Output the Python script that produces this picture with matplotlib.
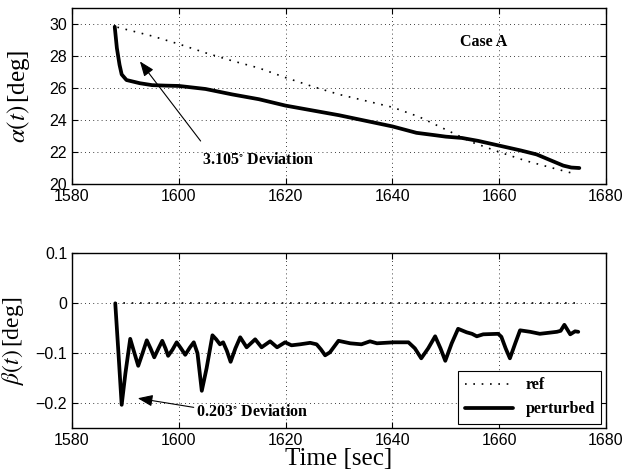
import matplotlib

matplotlib.use("Agg")
import matplotlib.pyplot as plt

plt.rcParams["font.family"] = ["Liberation Sans", "DejaVu Sans"]
plt.rcParams["mathtext.fontset"] = "stix"

SERIF = ["Liberation Serif", "DejaVu Serif"]

# alpha(t): perturbed and reference trajectories [deg]
alpha_t = [1588.0, 1588.4, 1588.9, 1589.3, 1590.2, 1592.7, 1595.0, 1597.5, 1600.0,
           1605.0, 1610.0, 1615.0, 1620.0, 1625.0, 1630.0, 1635.0, 1640.0, 1644.5,
           1648.0, 1650.0, 1653.0, 1656.0, 1660.0, 1664.0, 1667.0, 1669.5, 1672.0,
           1673.5, 1675.0]
alpha_pert = [29.83, 28.5, 27.45, 26.85, 26.5, 26.3, 26.18, 26.15, 26.13,
              25.94, 25.6, 25.3, 24.9, 24.6, 24.3, 23.95, 23.6, 23.2,
              23.05, 22.96, 22.88, 22.7, 22.4, 22.1, 21.85, 21.5, 21.15,
              21.03, 21.0]
alpha_ref_t = [1588.5, 1595.0, 1600.0, 1605.0, 1610.0, 1615.0, 1620.0, 1625.0, 1630.0,
               1635.0, 1640.0, 1645.0, 1650.0, 1655.0, 1660.0, 1665.0, 1670.0, 1674.0]
alpha_ref = [29.8, 29.25, 28.75, 28.2, 27.7, 27.25, 26.65, 26.1, 25.6,
             25.2, 24.8, 24.2, 23.4, 22.6, 22.0, 21.45, 21.0, 20.65]

# beta(t): perturbed trajectory [deg], reference is zero
beta_t = [1588.1, 1588.7, 1589.3, 1590.0, 1590.9, 1591.7, 1592.4, 1593.2, 1594.0,
          1594.7, 1595.4, 1596.2, 1596.9, 1597.5, 1598.0, 1598.8, 1599.6, 1600.4,
          1601.2, 1602.1, 1602.8, 1603.5, 1604.3, 1605.2, 1606.3, 1607.0, 1607.7,
          1608.3, 1609.0, 1609.7, 1610.6, 1611.5, 1612.7, 1614.3, 1615.5, 1617.1,
          1618.4, 1619.9, 1621.1, 1622.7, 1624.6, 1625.8, 1626.6, 1627.4, 1628.3,
          1629.9, 1632.1, 1634.2, 1635.8, 1637.1, 1640.2, 1643.0, 1644.2, 1645.4,
          1646.7, 1648.0, 1649.0, 1649.9, 1651.1, 1652.3, 1653.9, 1654.9, 1655.8,
          1657.0, 1659.8, 1660.4, 1661.2, 1662.0, 1663.0, 1663.9, 1665.8, 1667.6,
          1670.8, 1671.5, 1672.2, 1673.3, 1674.2, 1674.8]
beta_pert = [0.0, -0.1, -0.203, -0.14, -0.071, -0.1, -0.125, -0.1, -0.074,
             -0.09, -0.108, -0.09, -0.075, -0.09, -0.105, -0.093, -0.078, -0.09,
             -0.103, -0.088, -0.078, -0.1, -0.175, -0.13, -0.064, -0.072, -0.082,
             -0.078, -0.095, -0.117, -0.09, -0.068, -0.088, -0.072, -0.088, -0.076,
             -0.088, -0.078, -0.084, -0.082, -0.079, -0.082, -0.092, -0.104, -0.098,
             -0.075, -0.080, -0.082, -0.076, -0.080, -0.078, -0.078, -0.09, -0.110,
             -0.09, -0.066, -0.09, -0.115, -0.08, -0.051, -0.058, -0.061, -0.066,
             -0.062, -0.061, -0.067, -0.09, -0.110, -0.08, -0.054, -0.057, -0.061,
             -0.057, -0.055, -0.043, -0.062, -0.056, -0.057]
beta_ref_t = [1588.0, 1675.0]
beta_ref = [0.0, 0.0]

x_ticks = [1580, 1600, 1620, 1640, 1660, 1680]
alpha_ticks = [20, 22, 24, 26, 28, 30]
beta_ticks = [-0.2, -0.1, 0, 0.1]
beta_tick_labels = ["\u22120.2", "\u22120.1", "0", "0.1"]

fig = plt.figure(figsize=(6.24, 4.75), dpi=100)
ax1 = fig.add_axes([0.1154, 0.6126, 0.8558, 0.3705])
ax2 = fig.add_axes([0.1154, 0.0983, 0.8558, 0.3684])

ref_style = dict(color="black", lw=1.2, linestyle=(0, (1, 4)))
pert_style = dict(color="black", lw=2.7, solid_joinstyle="round",
                  solid_capstyle="round")

for ax in (ax1, ax2):
    ax.set_xlim(1580, 1680)
    ax.set_xticks(x_ticks)
    ax.grid(True, color="black", linestyle=(0, (1, 4)), lw=0.6)
    ax.tick_params(direction="in", top=True, right=True, labelsize=11.5,
                   length=4, width=0.8)
    for s in ax.spines.values():
        s.set_linewidth(1.0)

# top panel
ax1.plot(alpha_ref_t, alpha_ref, **ref_style)
ax1.plot(alpha_t, alpha_pert, **pert_style)
ax1.set_ylim(20, 31)
ax1.set_yticks(alpha_ticks)
ax1.set_ylabel(r"$\alpha(t)\,$[deg]", fontsize=18, family=SERIF)
ax1.yaxis.set_label_coords(-0.075, 0.5)
ax1.text(1657, 28.9, "Case A", family=SERIF, weight="bold", fontsize=11.5,
         ha="center", va="center")
ax1.annotate("", xy=(1592.4, 27.8), xytext=(1604.4, 22.55),
             arrowprops=dict(arrowstyle="-|>,head_length=0.9,head_width=0.35",
                             color="black", lw=0.8))
ax1.text(1604.4, 21.5, r"3.105$^{\circ}$ Deviation", family=SERIF, weight="bold",
         fontsize=11.5, ha="left", va="center")

# bottom panel
ax2.plot(beta_ref_t, beta_ref, label="ref", **ref_style)
ax2.plot(beta_t, beta_pert, label="perturbed", **pert_style)
ax2.set_ylim(-0.25, 0.1)
ax2.set_yticks(beta_ticks, labels=beta_tick_labels)
ax2.set_ylabel(r"$\beta(t)\,$[deg]", fontsize=17, family=SERIF)
ax2.yaxis.set_label_coords(-0.086, 0.5)
ax2.set_xlabel("Time [sec]", fontsize=18, family=SERIF, labelpad=0)
ax2.annotate("", xy=(1591.8, -0.189), xytext=(1603.3, -0.209),
             arrowprops=dict(arrowstyle="-|>,head_length=0.9,head_width=0.35",
                             color="black", lw=0.8))
ax2.text(1603.3, -0.217, r"0.203$^{\circ}$ Deviation", family=SERIF, weight="bold",
         fontsize=11.5, ha="left", va="center")
leg = ax2.legend(loc="lower right", prop=dict(family=SERIF, weight="bold", size=11.5),
                 fancybox=False, edgecolor="black", framealpha=1, handlelength=3,
                 borderaxespad=0.3)
leg.get_frame().set_linewidth(0.8)

fig.savefig("out.png", dpi=100)
